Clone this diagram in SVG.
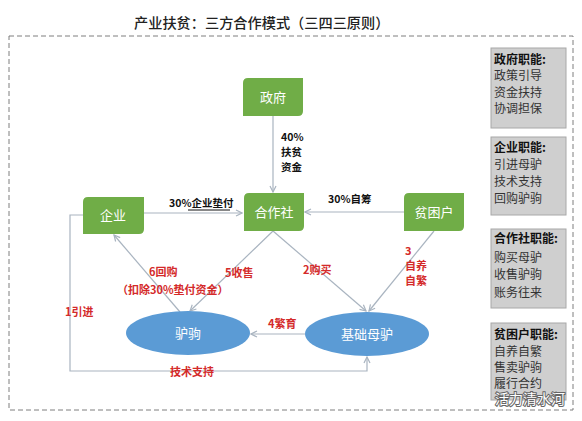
<svg xmlns="http://www.w3.org/2000/svg" width="582" height="421" viewBox="0 0 582 421">
<defs>
<style>
text{font-family:"Noto Sans CJK SC","Liberation Sans",sans-serif}
.node{fill:#70AD47}
.ell{fill:#5B9BD5}
.nt{fill:#fff;font-size:13px;text-anchor:middle}
.con{stroke:#A9B4C0;stroke-width:1.2;fill:none;marker-end:url(#arr)}
.blk{fill:#111;font-size:10.5px;font-weight:bold}
.red{fill:#D42A2A;font-size:11px;font-weight:bold}
.box{fill:#CFCFCF;stroke:#A8A8A8;stroke-width:1}
.bh{fill:#111;font-size:12px;font-weight:bold}
.bi{fill:#333;font-size:12px}
</style>
<marker id="arr" markerWidth="8" markerHeight="8" refX="7" refY="4" orient="auto" markerUnits="userSpaceOnUse">
<path d="M1,1 L7,4 L1,7" fill="none" stroke="#A9B4C0" stroke-width="1.2"/>
</marker>
</defs>
<rect width="582" height="421" fill="#fff"/>
<text x="134" y="28" font-size="14.2" font-weight="500" fill="#222">产业扶贫：三方合作模式（三四三原则）</text>
<rect x="9" y="36" width="564" height="374" fill="none" stroke="#7F7F7F" stroke-dasharray="5 3"/>

<g id="connectors">
<path class="con" d="M273,116 V192"/>
<path class="con" d="M144,213 H242"/>
<path class="con" d="M404,212 H305"/>
<path class="con" d="M273,231 L366,311"/>
<path class="con" d="M273,231 L190,311"/>
<path class="con" d="M180,312 L114,235"/>
<path class="con" d="M434,231 L369,311"/>
<path class="con" d="M305,334 H251"/>
<path class="con" d="M83,215 H70 V371 H367 V357"/>
<text class="blk" x="281" y="141">40%</text>
<text class="blk" x="281" y="156">扶贫</text>
<text class="blk" x="281" y="171">资金</text>
<text class="blk" x="169" y="207">30%企业垫付</text>
<line x1="188" y1="210" x2="230" y2="210" stroke="#111" stroke-width="1"/>
<text class="blk" x="328" y="203">30%自筹</text>
<text class="red" x="149" y="276">6回购</text>
<text class="red" x="117" y="294" font-weight="normal" font-size="9">（扣除30%垫付资金）</text>
<text class="red" x="225" y="277">5收售</text>
<text class="red" x="303" y="274">2购买</text>
<text class="red" x="405" y="255">3</text>
<text class="red" x="405" y="270">自养</text>
<text class="red" x="405" y="285">自繁</text>
<text class="red" x="268" y="328">4繁育</text>
<text class="red" x="65" y="316">1引进</text>
<text class="red" x="170" y="376" fill="#B22222" font-size="12">技术支持</text>
</g>

<g id="zhengfu"><path class="node" d="M248,78 H303 V111 Q303,116 298,116 H243 V83 Q243,78 248,78 Z"/><text class="nt" x="273" y="102">政府</text></g>
<g id="hezuoshe"><path class="node" d="M249,193 H304 V226 Q304,231 299,231 H244 V198 Q244,193 249,193 Z"/><text class="nt" x="274" y="217">合作社</text></g>
<g id="qiye"><path class="node" d="M88,197 H144 V229 Q144,234 139,234 H83 V202 Q83,197 88,197 Z"/><text class="nt" x="113" y="220">企业</text></g>
<g id="pinkunhu"><path class="node" d="M409,193 H464 V226 Q464,231 459,231 H404 V198 Q404,193 409,193 Z"/><text class="nt" x="434" y="217">贫困户</text></g>
<g id="lvju"><ellipse class="ell" cx="188" cy="333" rx="62" ry="22"/><text class="nt" x="188" y="338">驴驹</text></g>
<g id="jichumulv"><ellipse class="ell" cx="367" cy="334" rx="62" ry="22"/><text class="nt" x="367" y="339">基础母驴</text></g>

<g id="box-zhengfu"><rect class="box" x="491" y="48" width="75" height="80"/>
<text class="bh" x="494" y="64">政府职能:</text>
<text class="bi" x="494" y="80">政策引导</text>
<text class="bi" x="494" y="97">资金扶持</text>
<text class="bi" x="494" y="113">协调担保</text></g>
<g id="box-qiye"><rect class="box" x="491" y="137" width="75" height="78"/>
<text class="bh" x="494" y="152">企业职能:</text>
<text class="bi" x="494" y="169">引进母驴</text>
<text class="bi" x="494" y="186">技术支持</text>
<text class="bi" x="494" y="203">回购驴驹</text></g>
<g id="box-hezuoshe"><rect class="box" x="491" y="229" width="75" height="79"/>
<text class="bh" x="494" y="243">合作社职能:</text>
<text class="bi" x="494" y="262">购买母驴</text>
<text class="bi" x="494" y="279">收售驴驹</text>
<text class="bi" x="494" y="297">账务往来</text></g>
<g id="box-pinkunhu"><rect class="box" x="491" y="323" width="75" height="77"/>
<text class="bh" x="494" y="339">贫困户职能:</text>
<text class="bi" x="494" y="356">自养自繁</text>
<text class="bi" x="494" y="372">售卖驴驹</text>
<text class="bi" x="494" y="388">履行合约</text></g>

<text x="495" y="404" font-size="14" fill="#fff" stroke="#666" stroke-width="2" paint-order="stroke">活力清水河</text>
</svg>
